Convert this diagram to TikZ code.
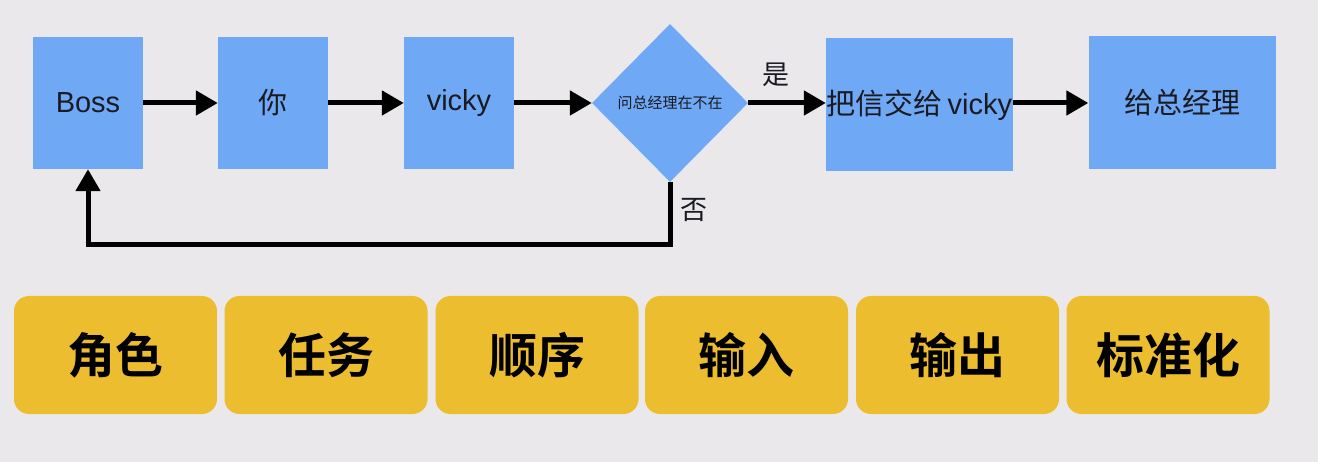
\documentclass[tikz,border=0pt]{standalone}
\usepackage{fontspec}
\setmainfont{Liberation Sans}
\newfontfamily\cjk{Noto Sans CJK SC}
\newfontfamily\cjkb{Noto Sans CJK SC Bold}
\usetikzlibrary{shapes.geometric,arrows.meta}
\definecolor{bg}{RGB}{234,232,235}
\definecolor{boxblue}{RGB}{111,169,245}
\definecolor{boxyellow}{RGB}{237,189,48}
\definecolor{ink}{RGB}{26,26,34}
\tikzset{
  x=1pt, y=-1pt,
  bluebox/.style={rectangle, fill=boxblue, inner sep=0pt, text=ink, font=\fontsize{29}{31}\selectfont},
  smallbox/.style={bluebox, minimum width=110pt, minimum height=132pt},
  bigbox/.style={bluebox, minimum width=187pt, minimum height=133pt},
  decision/.style={diamond, fill=boxblue, inner sep=0pt, minimum width=156pt, minimum height=158pt, text=ink, font=\fontsize{15}{17}\selectfont\cjk},
  tagbox/.style={rectangle, rounded corners=15pt, fill=boxyellow, inner sep=0pt, minimum width=203pt, minimum height=118pt, text=black, font=\fontsize{48}{52}\selectfont\cjkb},
  flow/.style={line width=5pt, -{Triangle[length=22pt,width=24pt]}},
  lbl/.style={text=ink, inner sep=0pt, font=\fontsize{27}{29}\selectfont\cjk}
}
\begin{document}
\begin{tikzpicture}
\fill[bg] (0,0) rectangle (1318,462);
\useasboundingbox (0,0) rectangle (1318,462);

\node[smallbox] (boss) at (88,103) {Boss};
\node[smallbox] (you) at (273,103) {\cjk 你};
\node[smallbox] (vicky) at (459,103) {vicky};
\node[decision] (ask) at (670,103) {问总经理在不在};
\node[bigbox] (give) at (919.5,105) {{\cjk 把信交给}\,vicky};
\node[bigbox] (gm) at (1182,103) {\cjk 给总经理};

\draw[flow] (boss.east) -- (you.west);
\draw[flow] (you.east) -- (vicky.west);
\draw[flow] (vicky.east) -- (ask.west);
\draw[flow] (ask.east) -- (ask.east -| give.west);
\draw[flow] (give.east |- gm.west) -- (gm.west);
\coordinate (turnR) at (670,245);
\coordinate (turnL) at (88,245);
\draw[flow] (ask.south) -- (turnR) -- (turnL) -- (boss.south);

\node[lbl] (yes) at (776,75) {是};
\node[lbl] (no) at (694,210) {否};

\node[tagbox] (t1) at (115.5,355) {角色};
\node[tagbox] (t2) at (326,355) {任务};
\node[tagbox] (t3) at (537,355) {顺序};
\node[tagbox] (t4) at (746.5,355) {输入};
\node[tagbox] (t5) at (957.5,355) {输出};
\node[tagbox] (t6) at (1168,355) {标准化};
\end{tikzpicture}
\end{document}
